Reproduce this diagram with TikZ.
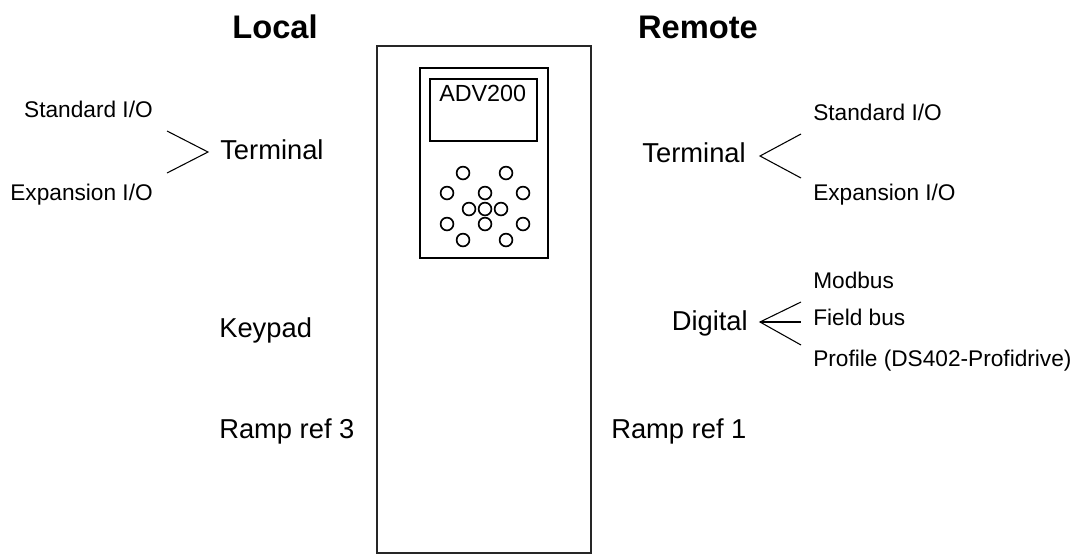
\documentclass[tikz,border=0pt]{standalone}
\usepackage{fontspec}
\setmainfont{Liberation Sans}
\begin{document}
\begin{tikzpicture}[x=0.75pt,y=-0.75pt,
  head/.style={font=\fontsize{24.5}{28}\selectfont\bfseries,inner sep=0pt,anchor=base},
  mainlbl/.style={font=\fontsize{20.5}{24}\selectfont,inner sep=0pt},
  small/.style={font=\fontsize{17}{20}\selectfont,inner sep=0pt},
  branch/.style={line width=0.8pt},
  btn/.style={circle,draw,line width=1.25pt,minimum size=9.6pt,inner sep=0pt}]
\useasboundingbox (0,0) rectangle (1077,554);
% drive housing
\draw[line width=1.8pt,draw=black!85] (377,46) rectangle (591,553);
% keypad panel
\draw[line width=0.9pt] (420,68) rectangle (548,258);
\draw[line width=1.1pt] (430,79) rectangle (537,141);
\node[font=\fontsize{17.5}{21}\selectfont,inner sep=0pt,anchor=base west] (adv) at (439,101) {ADV200};
\foreach \i/\x/\y in {1/463/173,2/506/173,3/447/193,4/485/193,5/523/193,6/469/209,7/485/209,8/501/209,9/447/224,10/485/224,11/523/224,12/463/240,13/506/240}
  \node[btn] (b\i) at (\x,\y) {};
% headings
\node[head] (local) at (275,38) {Local};
\node[head] (remote) at (698,38) {Remote};
% left side
\node[small,anchor=base east] (lstd) at (153,117) {Standard I/O};
\node[small,anchor=base east] (lexp) at (153,200) {Expansion I/O};
\node[mainlbl,anchor=base west] (lterm) at (220,159) {Terminal};
\node[mainlbl,anchor=base west] (keypad) at (219,337) {Keypad};
\node[mainlbl,anchor=base west] (ramp3) at (219,438) {Ramp ref 3};
\coordinate (la1) at (167,131);
\coordinate (lap) at (208,152);
\coordinate (la2) at (167,173);
\draw[branch] (la1) -- (lap) -- (la2);
% right side
\node[mainlbl,anchor=base east] (rterm) at (746,162) {Terminal};
\node[small,anchor=base west] (rstd) at (813,120) {Standard I/O};
\node[small,anchor=base west] (rexp) at (813,200) {Expansion I/O};
\coordinate (ra1) at (801,134);
\coordinate (rap) at (760,156);
\coordinate (ra2) at (801,178);
\draw[branch] (ra1) -- (rap) -- (ra2);
\node[mainlbl,anchor=base east] (digital) at (748,330) {Digital};
\node[small,anchor=base west] (modbus) at (813,288) {Modbus};
\node[small,anchor=base west] (fieldbus) at (813,325) {Field bus};
\node[small,anchor=base west] (profile) at (813,366) {Profile (DS402-Profidrive)};
\coordinate (da1) at (801,302);
\coordinate (dap) at (760,322);
\coordinate (da2) at (801,322);
\coordinate (da3) at (801,345);
\draw[branch] (da1) -- (dap) -- (da3);
\draw[branch] (dap) -- (da2);
\node[mainlbl,anchor=base west] (ramp1) at (611,438) {Ramp ref 1};
\end{tikzpicture}
\end{document}
